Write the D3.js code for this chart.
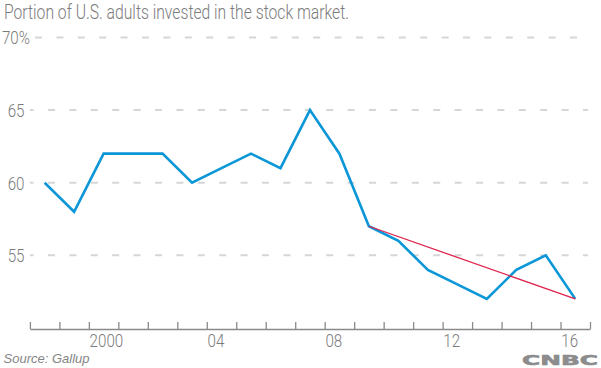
<!DOCTYPE html>
<html>
<head>
<meta charset="utf-8">
<script src="https://cdn.jsdelivr.net/npm/d3@7"></script>
<style>
  html, body { margin: 0; padding: 0; background: #fff; }
  svg { display: block; }
</style>
</head>
<body>
<svg id="chart" width="601" height="368"></svg>
<script>
// ---- data ----
const years = [1998,1999,2000,2001,2002,2003,2004,2005,2006,2007,2008,2009,2010,2011,2012,2013,2014,2015,2016];
const values = [60,58,62,62,62,60,61,62,61,65,62,57,56,54,53,52,54,55,52];
const trendYears = [2009, 2016];
const trendValues = [57, 52];
const yTicks = [55, 60, 65, 70];
const yTickLabels = ["55", "60", "65", "70%"];
const xLabelYears = [2000, 2004, 2008, 2012, 2016];
const xLabelTexts = ["2000", "04", "08", "12", "16"];
const titleText = "Portion of U.S. adults invested in the stock market.";
const sourceText = "Source: Gallup";
const logoText = "CNBC";

// ---- drawing ----
const svg = d3.select("#chart");
const W = 601, H = 368;
const x = d3.scaleLinear().domain([1997.5, 2016.5]).range([29.9, 590]);
const y = d3.scaleLinear().domain([50, 70]).range([327.9, 37.5]);

const textColor = "#7b7b7b";
const condFont = "Roboto, 'Liberation Sans Narrow', sans-serif";

// title
svg.append("text")
  .attr("x", 4).attr("y", 18.5)
  .attr("font-family", condFont).attr("font-weight", 300)
  .attr("font-size", 20).attr("fill", textColor)
  .attr("textLength", 345).attr("lengthAdjust", "spacingAndGlyphs")
  .text(titleText);

// gridlines
svg.append("g").selectAll("line")
  .data(yTicks)
  .join("line")
  .attr("x1", d => d === 70 ? 35 : 30)
  .attr("x2", 588)
  .attr("y1", d => y(d)).attr("y2", d => y(d))
  .attr("stroke", "#d6d6d6").attr("stroke-width", 2)
  .attr("stroke-dasharray", "7,14.4")
  .attr("stroke-dashoffset", d => d === 70 ? 0 : 3.4);

// y labels
svg.append("g").selectAll("text")
  .data(yTicks)
  .join("text")
  .attr("transform", (d, i) => `translate(${d === 70 ? 30 : 24.5},${y(d) + 6.8}) scale(0.82,1)`)
  .attr("text-anchor", "end")
  .attr("font-family", condFont).attr("font-weight", 300)
  .attr("font-size", 18.5).attr("fill", textColor)
  .text((d, i) => yTickLabels[i]);

// x axis
const tickVals = d3.range(1997.5, 2017, 1);
const xAxis = d3.axisBottom(x).tickValues(tickVals).tickSize(-7).tickSizeOuter(0).tickFormat("");
const gx = svg.append("g").attr("transform", `translate(0,${y(50) + 1.1})`).call(xAxis);
gx.select(".domain").attr("stroke", "#8a8a8a").attr("stroke-width", 1.5);
gx.selectAll(".tick line").attr("stroke", "#8a8a8a").attr("stroke-width", 1.3);

// x labels
svg.append("g").selectAll("text")
  .data(xLabelYears)
  .join("text")
  .attr("transform", d => `translate(${x(d) - 14},346.5) scale(0.82,1)`)
  .attr("text-anchor", "start")
  .attr("font-family", condFont).attr("font-weight", 300)
  .attr("font-size", 18.5).attr("fill", textColor)
  .text((d, i) => xLabelTexts[i]);

// main line
const line = d3.line().x(d => x(d[0])).y(d => y(d[1]));
svg.append("path")
  .datum(years.map((yr, i) => [yr, values[i]]))
  .attr("d", line)
  .attr("fill", "none")
  .attr("stroke", "#0b97d7").attr("stroke-width", 2.6)
  .attr("stroke-linejoin", "miter");

// trend line
svg.append("path")
  .datum(trendYears.map((yr, i) => [yr, trendValues[i]]))
  .attr("d", line)
  .attr("fill", "none")
  .attr("stroke", "#e0244f").attr("stroke-width", 1.3);

// source
svg.append("text")
  .attr("x", 3.5).attr("y", 362.7)
  .attr("font-family", "'Liberation Sans', Arial, sans-serif")
  .attr("font-style", "italic")
  .attr("font-size", 13).attr("fill", "#858585")
  .text(sourceText);

// logo
svg.append("text")
  .attr("x", 522).attr("y", 364.8)
  .attr("font-family", "'DejaVu Sans', sans-serif")
  .attr("font-weight", 700)
  .attr("font-size", 13.8).attr("fill", "#8c8c8c")
  .attr("stroke", "#8c8c8c").attr("stroke-width", 0.6)
  .attr("textLength", 76).attr("lengthAdjust", "spacingAndGlyphs")
  .text(logoText);
</script>
</body>
</html>
